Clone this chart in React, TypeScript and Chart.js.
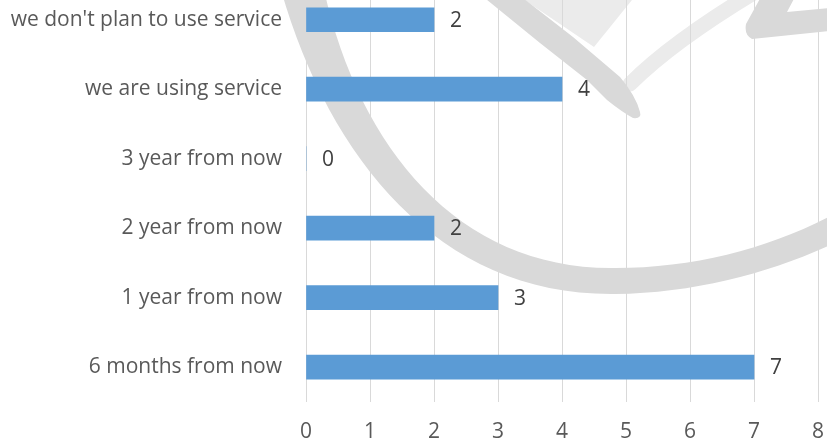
import React, { useEffect, useRef } from "react";
import { Chart, registerables } from "chart.js";

Chart.register(...registerables);

const categories = [
  "we don't plan to use service",
  "we are using service",
  "3 year from now",
  "2 year from now",
  "1 year from now",
  "6 months from now",
];
const values = [2, 4, 0, 2, 3, 7];
const xTicks = [0, 1, 2, 3, 4, 5, 6, 7, 8];

const FONT = "'Open Sans', Lato, sans-serif";
const FS = 21;
const SHIFT = 15;
const CH = 478;

const watermark = {
  id: "watermark",
  beforeDraw(chart: any) {
    const ctx = chart.ctx as CanvasRenderingContext2D;
    ctx.save();
    ctx.translate(0, SHIFT);
    // large swoosh
    ctx.fillStyle = "#d9d9d9";
    ctx.beginPath();
    ctx.moveTo(281, -10);
    ctx.bezierCurveTo(330, 160, 440, 296, 615, 294);
    ctx.bezierCurveTo(700, 293, 780, 270, 845, 238);
    ctx.lineTo(845, 208);
    ctx.bezierCurveTo(780, 245, 700, 268, 615, 268);
    ctx.bezierCurveTo(460, 270, 360, 150, 324, -10);
    ctx.closePath();
    ctx.fill();
    // light region
    ctx.fillStyle = "#ebebeb";
    ctx.beginPath();
    ctx.moveTo(517, -5);
    ctx.lineTo(636, -5);
    ctx.lineTo(594, 47);
    ctx.closePath();
    ctx.fill();
    ctx.strokeStyle = "#ebebeb";
    ctx.lineWidth = 15;
    ctx.lineCap = "round";
    ctx.beginPath();
    ctx.moveTo(630, 84);
    ctx.quadraticCurveTo(672, 42, 755, -8);
    ctx.stroke();
    // nib
    ctx.fillStyle = "#d9d9d9";
    ctx.beginPath();
    ctx.moveTo(481, -5);
    ctx.lineTo(540, 43);
    ctx.lineTo(587, 80);
    ctx.lineTo(607, 100);
    ctx.quadraticCurveTo(622, 112, 633, 118);
    ctx.quadraticCurveTo(642, 119, 640, 112);
    ctx.quadraticCurveTo(636, 96, 620, 77);
    ctx.lineTo(573, 37);
    ctx.lineTo(519, -5);
    ctx.closePath();
    ctx.fill();
    // top-right stroke
    ctx.beginPath();
    ctx.moveTo(746, 24);
    ctx.lineTo(762, -5);
    ctx.lineTo(796, -5);
    ctx.lineTo(787, 12);
    ctx.lineTo(830, 8);
    ctx.lineTo(830, 31);
    ctx.lineTo(752, 39);
    ctx.quadraticCurveTo(744, 35, 746, 24);
    ctx.closePath();
    ctx.fill();
    ctx.restore();
  },
};

const dataLabels = {
  id: "dataLabels",
  afterDatasetsDraw(chart: any) {
    const ctx = chart.ctx as CanvasRenderingContext2D;
    const meta = chart.getDatasetMeta(0);
    ctx.save();
    ctx.fillStyle = "#404040";
    ctx.font = `${FS}px ${FONT}`;
    ctx.textAlign = "left";
    ctx.textBaseline = "middle";
    meta.data.forEach((bar: any, i: number) => {
      ctx.fillText(String(values[i]), bar.x + 16, bar.y + 1);
    });
    ctx.restore();
  },
};

export default function App() {
  const ref = useRef<HTMLCanvasElement | null>(null);
  useEffect(() => {
    if (!ref.current) return;
    const chart = new Chart(ref.current, {
      type: "bar",
      data: {
        labels: categories,
        datasets: [
          {
            data: values,
            backgroundColor: "#5b9bd5",
            borderWidth: 0,
            barThickness: 24,
          },
        ],
      },
      options: {
        indexAxis: "y",
        responsive: false,
        animation: false,
        layout: { padding: { top: 0, right: 9, left: 0, bottom: 0 } },
        plugins: { legend: { display: false }, tooltip: { enabled: false } },
        scales: {
          x: {
            min: 0,
            max: 8,
            afterBuildTicks: (s: any) => {
              s.ticks = xTicks.map((v) => ({ value: v }));
            },
            afterFit: (s: any) => {
              s.paddingLeft = 0;
              s.paddingRight = 0;
            },
            ticks: { color: "#595959", font: { size: FS, family: FONT }, padding: 18 },
            grid: { color: "#d9d9d9", drawTicks: false, lineWidth: 1 },
            border: { display: false },
          },
          y: {
            type: "category",
            afterFit: (s: any) => {
              s.width = 306;
              s.paddingTop = 0;
              s.paddingBottom = 0;
            },
            ticks: { color: "#595959", font: { size: FS, family: FONT }, padding: 24 },
            grid: { display: false, drawTicks: false },
            border: { display: false },
          },
        },
      },
      plugins: [watermark, dataLabels],
    });
    return () => chart.destroy();
  }, []);
  return (
    <div
      style={{
        position: "fixed",
        left: 0,
        top: 0,
        width: 827,
        height: 439,
        overflow: "hidden",
      }}
    >
      <canvas
        ref={ref}
        width={827}
        height={CH}
        style={{ display: "block", marginTop: -SHIFT }}
      />
    </div>
  );
}
